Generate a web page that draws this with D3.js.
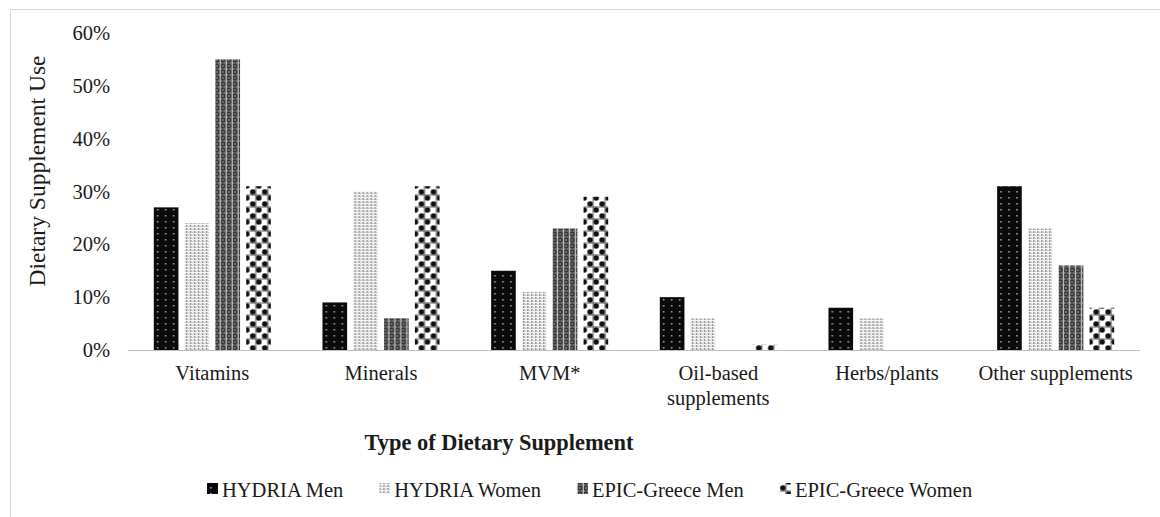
<!DOCTYPE html>
<html>
<head>
<meta charset="utf-8">
<script src="https://cdn.jsdelivr.net/npm/d3@7"></script>
<style>
  body { margin: 0; background: #fff; }
  text { font-family: "Liberation Serif", "Times New Roman", serif; fill: #1a1a1a; }
</style>
</head>
<body>
<svg id="chart" width="1160" height="517"></svg>
<script>
// DATA
const categories = ["Vitamins", "Minerals", "MVM*", "Oil-based supplements", "Herbs/plants", "Other supplements"];
const categoryLines = [["Vitamins"], ["Minerals"], ["MVM*"], ["Oil-based", "supplements"], ["Herbs/plants"], ["Other supplements"]];
const seriesNames = ["HYDRIA Men", "HYDRIA Women", "EPIC-Greece Men", "EPIC-Greece Women"];
const hydriaMen = [27, 9, 15, 10, 8, 31];
const hydriaWomen = [24, 30, 11, 6, 6, 23];
const epicMen = [55, 6, 23, 0, 0, 16];
const epicWomen = [31, 31, 29, 1, 0, 8];
const yTicks = [0, 10, 20, 30, 40, 50, 60];

const seriesValues = [hydriaMen, hydriaWomen, epicMen, epicWomen];

const svg = d3.select("#chart");
const margin = { left: 128, right: 20, top: 33, bottom: 167 };
const width = 1160 - margin.left - margin.right;
const height = 517 - margin.top - margin.bottom;

// chart border (runs off right and bottom)
svg.append("rect")
  .attr("x", 10.5).attr("y", 9.5)
  .attr("width", 1200).attr("height", 600)
  .attr("fill", "none").attr("stroke", "#d6d6d6");

// PATTERNS
const defs = svg.append("defs");

// HYDRIA Men: black with little white dots
let p = defs.append("pattern").attr("id", "pat0").attr("patternUnits", "userSpaceOnUse")
  .attr("width", 8).attr("height", 6);
p.append("rect").attr("width", 8).attr("height", 6).attr("fill", "#0a0a0a");
p.append("rect").attr("x", 3).attr("y", 2).attr("width", 1.6).attr("height", 1.6).attr("fill", "#9a9a9a");

// HYDRIA Women: light vertical dotted lines
p = defs.append("pattern").attr("id", "pat1").attr("patternUnits", "userSpaceOnUse")
  .attr("width", 4).attr("height", 3);
p.append("rect").attr("width", 4).attr("height", 3).attr("fill", "#f4f4f4");
p.append("rect").attr("x", 0).attr("y", 0).attr("width", 1.4).attr("height", 2).attr("fill", "#8c8c8c");
p.append("rect").attr("x", 2).attr("y", 1).attr("width", 1).attr("height", 1).attr("fill", "#c4c4c4");

// EPIC-Greece Men: grey mesh
p = defs.append("pattern").attr("id", "pat2").attr("patternUnits", "userSpaceOnUse")
  .attr("width", 6).attr("height", 6);
p.append("rect").attr("width", 6).attr("height", 6).attr("fill", "#6e6e6e");
p.append("circle").attr("cx", 3).attr("cy", 3).attr("r", 2).attr("fill", "none").attr("stroke", "#1c1c1c").attr("stroke-width", 1);
p.append("rect").attr("x", 0).attr("y", 0).attr("width", 1).attr("height", 6).attr("fill", "#c8c8c8");

// EPIC-Greece Women: checker of black blobs on white
p = defs.append("pattern").attr("id", "pat3").attr("patternUnits", "userSpaceOnUse")
  .attr("width", 12).attr("height", 12);
p.append("rect").attr("width", 12).attr("height", 12).attr("fill", "#ffffff");
p.append("circle").attr("cx", 3).attr("cy", 3).attr("r", 2.8).attr("fill", "#111");
p.append("circle").attr("cx", 9).attr("cy", 9).attr("r", 2.8).attr("fill", "#111");
p.append("path").attr("d", "M0,6H12M6,0V12").attr("stroke", "#444").attr("stroke-width", 0.9);

const g = svg.append("g").attr("transform", `translate(${margin.left},${margin.top})`);

// SCALES
const x0 = d3.scaleBand().domain(categories).range([0, width]).paddingInner(0.306).paddingOuter(0.153);
const x1 = d3.scaleBand().domain(seriesNames).range([0, x0.bandwidth()]).paddingInner(0.2);
const y = d3.scaleLinear().domain([0, 60]).range([height, 0]);

// y axis labels
const yAxis = d3.axisLeft(y).tickValues(yTicks).tickFormat(d => d + "%").tickSize(0).tickPadding(18);
g.append("g").call(yAxis)
  .call(s => s.select(".domain").remove())
  .selectAll("text")
  .style("font-family", "Liberation Serif")
  .style("font-size", "20.5px")
  .attr("fill", "#1a1a1a");

// BARS
const rows = categories.map((c, i) => ({ cat: c, vals: seriesValues.map((s, j) => ({ name: seriesNames[j], idx: j, v: s[i] })) }));

g.append("g").selectAll("g")
  .data(rows)
  .join("g")
  .attr("transform", d => `translate(${x0(d.cat)},0)`)
  .selectAll("rect")
  .data(d => d.vals)
  .join("rect")
  .attr("x", d => x1(d.name))
  .attr("width", x1.bandwidth())
  .attr("y", d => y(d.v))
  .attr("height", d => height - y(d.v))
  .attr("fill", d => `url(#pat${d.idx})`);

// baseline
g.append("line")
  .attr("x1", 0).attr("x2", width)
  .attr("y1", y(0) + 0.5).attr("y2", y(0) + 0.5)
  .attr("stroke", "#bfbfbf");

// category labels
const catLabels = g.append("g").selectAll("text")
  .data(categories)
  .join("text")
  .attr("text-anchor", "middle")
  .attr("x", d => x0(d) + x0.bandwidth() / 2)
  .attr("y", height + 30)
  .style("font-size", "20.5px");
catLabels.selectAll("tspan")
  .data((d, i) => categoryLines[i])
  .join("tspan")
  .attr("x", function() { return d3.select(this.parentNode).attr("x"); })
  .attr("dy", (d, i) => i === 0 ? 0 : 25)
  .text(d => d);

// axis titles
svg.append("text")
  .attr("transform", `translate(45,171) rotate(-90)`)
  .attr("text-anchor", "middle")
  .style("font-size", "23.5px")
  .text("Dietary Supplement Use");

svg.append("text")
  .attr("x", 499).attr("y", 450)
  .attr("text-anchor", "middle")
  .style("font-size", "22.4px")
  .style("font-weight", "bold")
  .text("Type of Dietary Supplement");

// LEGEND
const legend = svg.append("g").attr("transform", "translate(207,497)");
let lx = 0;
seriesNames.forEach((name, i) => {
  const item = legend.append("g").attr("transform", `translate(${lx},0)`);
  item.append("rect").attr("x", 0).attr("y", -14).attr("width", 11).attr("height", 11)
    .attr("fill", `url(#pat${i})`);
  const t = item.append("text").attr("x", 15).attr("y", 0).style("font-size", "20.5px").text(name);
  lx += 15 + t.node().getComputedTextLength() + 36;
});
</script>
</body>
</html>
